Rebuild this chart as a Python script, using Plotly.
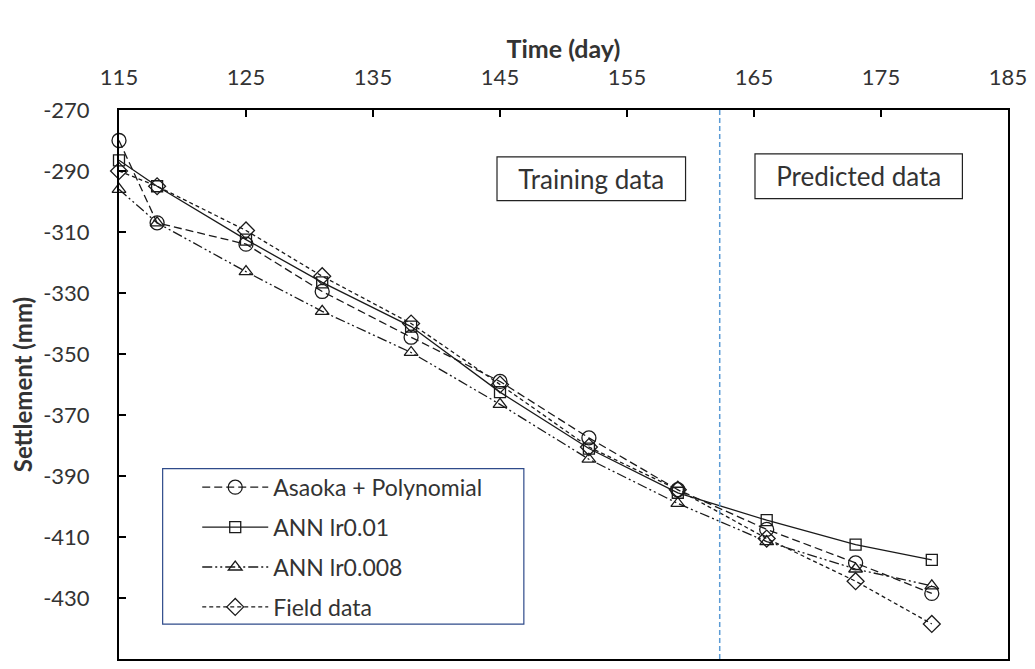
import plotly.graph_objects as go

# ---- data ----
days = [115, 118, 125, 131, 138, 145, 152, 159, 166, 173, 179]
asaoka_poly = [-280, -307, -314, -329.5, -344.5, -359, -377.5, -394.5, -407.5, -418.5, -428.5]
ann_lr001 = [-286.5, -295, -312.5, -326.5, -341, -362.5, -381, -395.5, -404.5, -412.5, -417.5]
ann_lr0008 = [-296, -307, -323, -336, -349.5, -366.5, -384.5, -399, -411.5, -420.5, -426]
field_data = [-290, -295, -309.5, -324.5, -340, -360, -380.5, -394.5, -410.5, -424.5, -438.5]
split_day = 162.3
x_ticks = [115, 125, 135, 145, 155, 165, 175, 185]
y_ticks = [-270, -290, -310, -330, -350, -370, -390, -410, -430, -450]
y_tick_text = [str(v) for v in y_ticks]

FONT = "Lato, 'Open Sans', sans-serif"
TXT = "#333333"

series = [
    ("Asaoka + Polynomial", asaoka_poly, "circle-open", 14, "8px,4px"),
    ("ANN lr0.01", ann_lr001, "square-open", 11, "solid"),
    ("ANN lr0.008", ann_lr0008, "triangle-up-open", 12, "10px,3px,2px,3px,2px,3px"),
    ("Field data", field_data, "diamond-open", 13, "4px,3px"),
]

fig = go.Figure()
for i, (name, vals, sym, size, dash) in enumerate(series):
    fig.add_trace(go.Scatter(
        x=days, y=vals, name=name, mode="lines+markers",
        legendgroup=f"g{i}",
        line=dict(color="#1a1a1a", width=1.3, dash=dash),
        marker=dict(symbol=sym, size=size, color="#1a1a1a",
                    line=dict(color="#1a1a1a", width=1.3)),
        cliponaxis=False,
    ))

# vertical split line
fig.add_shape(type="line", x0=split_day, x1=split_day, y0=0, y1=1,
              xref="x", yref="paper",
              line=dict(color="#5B9BD5", width=1.5, dash="5px,3px"))

# text boxes
fig.add_shape(type="rect", xref="paper", yref="paper",
              x0=0.4252, x1=0.6373, y0=0.8348, y1=0.9147,
              line=dict(color="#222222", width=1.2), fillcolor="white",
              label=dict(text="Training data", textposition="middle center",
                         font=dict(family=FONT, size=26, color=TXT)))
fig.add_shape(type="rect", xref="paper", yref="paper",
              x0=0.7154, x1=0.9487, y0=0.8385, y1=0.9201,
              line=dict(color="#222222", width=1.2), fillcolor="white",
              label=dict(text="Predicted data", textposition="middle center",
                         font=dict(family=FONT, size=26, color=TXT)))

# legend frame
fig.add_shape(type="rect", xref="paper", yref="paper",
              x0=0.0491, x1=0.4554, y0=0.0635, y1=0.3466,
              line=dict(color="#2F4B8A", width=1.2), fillcolor="white")

fig.update_layout(
    width=1027, height=661,
    margin=dict(l=109, r=22, t=102, b=8),
    plot_bgcolor="white", paper_bgcolor="white",
    font=dict(family=FONT, size=21, color=TXT),
    title=dict(text="<b>Time (day)</b>", x=0.5, xref="paper", xanchor="center",
               y=0.937, yref="container", yanchor="middle",
               font=dict(family=FONT, size=25, color=TXT)),
    showlegend=True,
    legend=dict(
        x=0.088, y=0.352, xanchor="left", yanchor="top",
        borderwidth=0, bgcolor="rgba(0,0,0,0)",
        font=dict(family=FONT, size=23, color=TXT),
        traceorder="grouped", tracegroupgap=7,
        itemwidth=66,
    ),
    xaxis=dict(
        side="top", range=[115, 185], tickvals=x_ticks,
        ticks="inside", ticklen=7, tickwidth=2, tickcolor="black",
        showline=True, linewidth=2, linecolor="black", mirror=True,
        showgrid=False, zeroline=False,
        tickfont=dict(family=FONT, size=22, color=TXT),
        ticklabelstandoff=14,
    ),
    yaxis=dict(
        range=[-450, -270], tickvals=y_ticks, ticktext=y_tick_text,
        ticks="inside", ticklen=7, tickwidth=2, tickcolor="black",
        showline=True, linewidth=2, linecolor="black", mirror=True,
        showgrid=False, zeroline=False,
        tickfont=dict(family=FONT, size=22, color=TXT),
        ticklabelstandoff=23,
        title=dict(text="<b>Settlement (mm)</b>", standoff=10,
                   font=dict(family=FONT, size=24, color=TXT)),
    ),
)

fig.write_html("out.html")
